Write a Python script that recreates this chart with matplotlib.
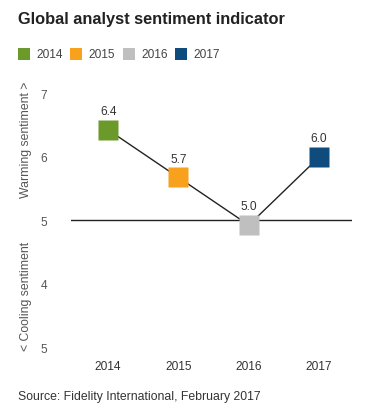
import matplotlib.pyplot as plt
from matplotlib.patches import Rectangle

plt.rcParams["font.family"] = ["Liberation Sans", "DejaVu Sans"]

# ---------- Data ----------
years = ["2014", "2015", "2016", "2017"]
values = [6.42, 5.67, 4.92, 5.99]          # plotted positions
value_labels = ["6.4", "5.7", "5.0", "6.0"]
colors = ["#6b9a2a", "#f7a11c", "#bfbfbf", "#0f4b7c"]
ytick_vals = [3, 4, 5, 6, 7]
ytick_text = ["5", "4", "5", "6", "7"]   # as printed in the original
baseline = 5

# ---------- Plot ----------
fig = plt.figure(figsize=(3.77, 4.10), dpi=100)
ax = fig.add_axes([0.188, 0.1512, 0.746, 0.6195])

x = list(range(len(years)))
ax.plot(x, values, color="#222222", lw=1.0, zorder=2)
ax.axhline(baseline, color="#222222", lw=1.0, zorder=1)
for xi, v, c, lab in zip(x, values, colors, value_labels):
    ax.plot(xi, v, marker="s", ms=13.7, color=c, mec="none", zorder=3)
    ax.annotate(lab, (xi, v), xytext=(0, 13.5), textcoords="offset points",
                ha="center", va="center", fontsize=8.6, color="#333333")

ax.set_xlim(-0.53, 3.47)
ax.set_ylim(3, 7)
ax.set_xticks(x)
ax.set_xticklabels(years, fontsize=8.6, color="#333333")
ax.set_yticks(ytick_vals)
ax.set_yticklabels(ytick_text, fontsize=8.6, color="#555555")
ax.tick_params(length=0)
ax.tick_params(axis="x", pad=9)
ax.tick_params(axis="y", pad=17)
for s in ax.spines.values():
    s.set_visible(False)

# axis side labels
fig.text(0.068, 0.66, "Warming sentiment >", rotation=90, ha="center", va="center",
         fontsize=8.8, color="#555555")
fig.text(0.068, 0.278, "< Cooling sentiment", rotation=90, ha="center", va="center",
         fontsize=8.8, color="#555555")

# title
fig.text(0.048, 0.952, "Global analyst sentiment indicator", fontsize=11.8,
         fontweight="bold", color="#222222", ha="left", va="center")

# legend
leg_x = [18, 70, 123, 175]
for lx, c, y in zip(leg_x, colors, years):
    fig.patches.append(Rectangle((lx / 377, (410 - 61) / 410), 12 / 377, 12 / 410,
                                 transform=fig.transFigure, color=c, lw=0))
    fig.text((lx + 18) / 377, (410 - 55) / 410, y, fontsize=8.6, color="#444444",
             ha="left", va="center")

# source
fig.text(0.048, 0.032, "Source: Fidelity International, February 2017", fontsize=8.8,
         color="#333333", ha="left", va="center")

fig.savefig("out.png", dpi=100)
